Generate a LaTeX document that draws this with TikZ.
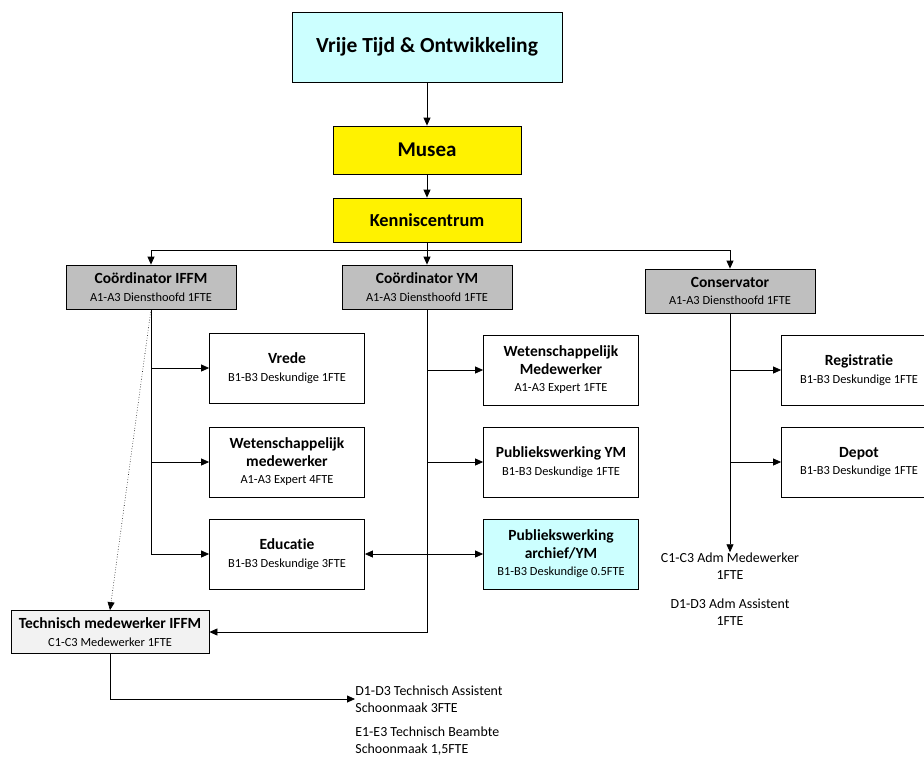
\documentclass[tikz,border=0pt]{standalone}
\usepackage{fontspec}
\setmainfont[Ligatures=NoCommon]{Carlito}
\usetikzlibrary{arrows.meta}
\definecolor{topcyan}{HTML}{CCFFFF}
\definecolor{headgrey}{HTML}{BFBFBF}
\definecolor{techgrey}{HTML}{F2F2F2}
\newcommand{\fte}[1]{{\fontsize{12.4}{15}\selectfont\mdseries #1}}
\begin{document}
\begin{tikzpicture}[x=1pt,y=-1pt,
    line width=0.8pt,
    >={Triangle[length=8pt,width=7pt]},
    box/.style={draw,fill=white,minimum width=155pt,minimum height=70pt,align=center,
      inner sep=2pt,font=\fontsize{15.5}{17.5}\selectfont\bfseries},
    head/.style={box,fill=headgrey,minimum width=170pt,minimum height=44pt},
    top/.style={box,minimum width=188pt,fill=yellow},
    plain/.style={align=center,inner sep=0pt,font=\fontsize{13.9}{17}\selectfont}]
  \useasboundingbox (0,0) rectangle (924,758);
  \draw
    (427,47) node[box,fill=topcyan,minimum width=270pt,font=\fontsize{21.5}{24}\selectfont\bfseries] (vto){Vrije Tijd \& Ontwikkeling}
    (427,150) node[top,minimum height=48pt,font=\fontsize{21}{24}\selectfont\bfseries] (musea){Musea}
    (427,220) node[top,minimum height=44pt,font=\fontsize{18.3}{20}\selectfont\bfseries] (kc){Kenniscentrum}
    (151,287) node[head] (ciffm){Coördinator IFFM\\\fte{A1-A3 Diensthoofd 1FTE}}
    (427,287) node[head] (cym){Coördinator YM\\\fte{A1-A3 Diensthoofd 1FTE}}
    (730,291) node[head] (cons){Conservator\\\fte{A1-A3 Diensthoofd 1FTE}}
    (287,368) node[box] (vrede){Vrede\\\fte{B1-B3 Deskundige 1FTE}}
    (287,462) node[box] (wmiffm){Wetenschappelijk\\medewerker\\\fte{A1-A3 Expert 4FTE}}
    (287,554) node[box] (edu){Educatie\\\fte{B1-B3 Deskundige 3FTE}}
    (561,370) node[box] (wmym){Wetenschappelijk\\Medewerker\\\fte{A1-A3 Expert 1FTE}}
    (561,462) node[box] (pym){Publiekswerking YM\\\fte{B1-B3 Deskundige 1FTE}}
    (561,554) node[box,fill=topcyan] (parch){Publiekswerking\\archief/YM\\\fte{B1-B3 Deskundige 0.5FTE}}
    (859,370) node[box] (reg){Registratie\\\fte{B1-B3 Deskundige 1FTE}}
    (859,462) node[box] (depot){Depot\\\fte{B1-B3 Deskundige 1FTE}}
    (110,632) node[box,fill=techgrey,minimum width=198pt,minimum height=43pt] (tech){Technisch medewerker IFFM\\\fte{C1-C3 Medewerker 1FTE}}
    (730,566) node[plain] (admmw){C1-C3 Adm Medewerker\\1FTE}
    (730,612) node[plain] (admas){D1-D3 Adm Assistent\\1FTE}
    (355,699) node[plain,anchor=west,align=left] (techas){D1-D3 Technisch Assistent\\Schoonmaak 3FTE}
    (355,741) node[plain,anchor=west,align=left] (techbe){E1-E3 Technisch Beambte\\Schoonmaak 1,5FTE};
  \coordinate (bus) at (427,250);
  \begin{scope}[->]
    \draw (vto) to (musea);
    \draw (musea) to (kc);
    \draw (kc) to (cym);
    \draw (bus) -| (ciffm);
    \draw (bus) -| (cons);
    \draw (ciffm.south) |- (edu.west);
    \draw (ciffm.south |- vrede.west) to (vrede.west);
    \draw (ciffm.south |- wmiffm.west) to (wmiffm.west);
    \draw (cym.south) |- (tech.east);
    \draw (cym.south |- wmym.west) to (wmym.west);
    \draw (cym.south |- pym.west) to (pym.west);
    \draw (cym.south |- parch.west) to (parch.west);
    \draw (cym.south |- edu.east) to (edu.east);
    \draw (cons.south) to (cons.south |- admmw.north);
    \draw (cons.south |- reg.west) to (reg.west);
    \draw (cons.south |- depot.west) to (depot.west);
    \draw[line width=0.6pt,dotted] (ciffm.south) to (tech.north);
    \draw (tech.south) |- (techas.west);
  \end{scope}
\end{tikzpicture}
\end{document}
